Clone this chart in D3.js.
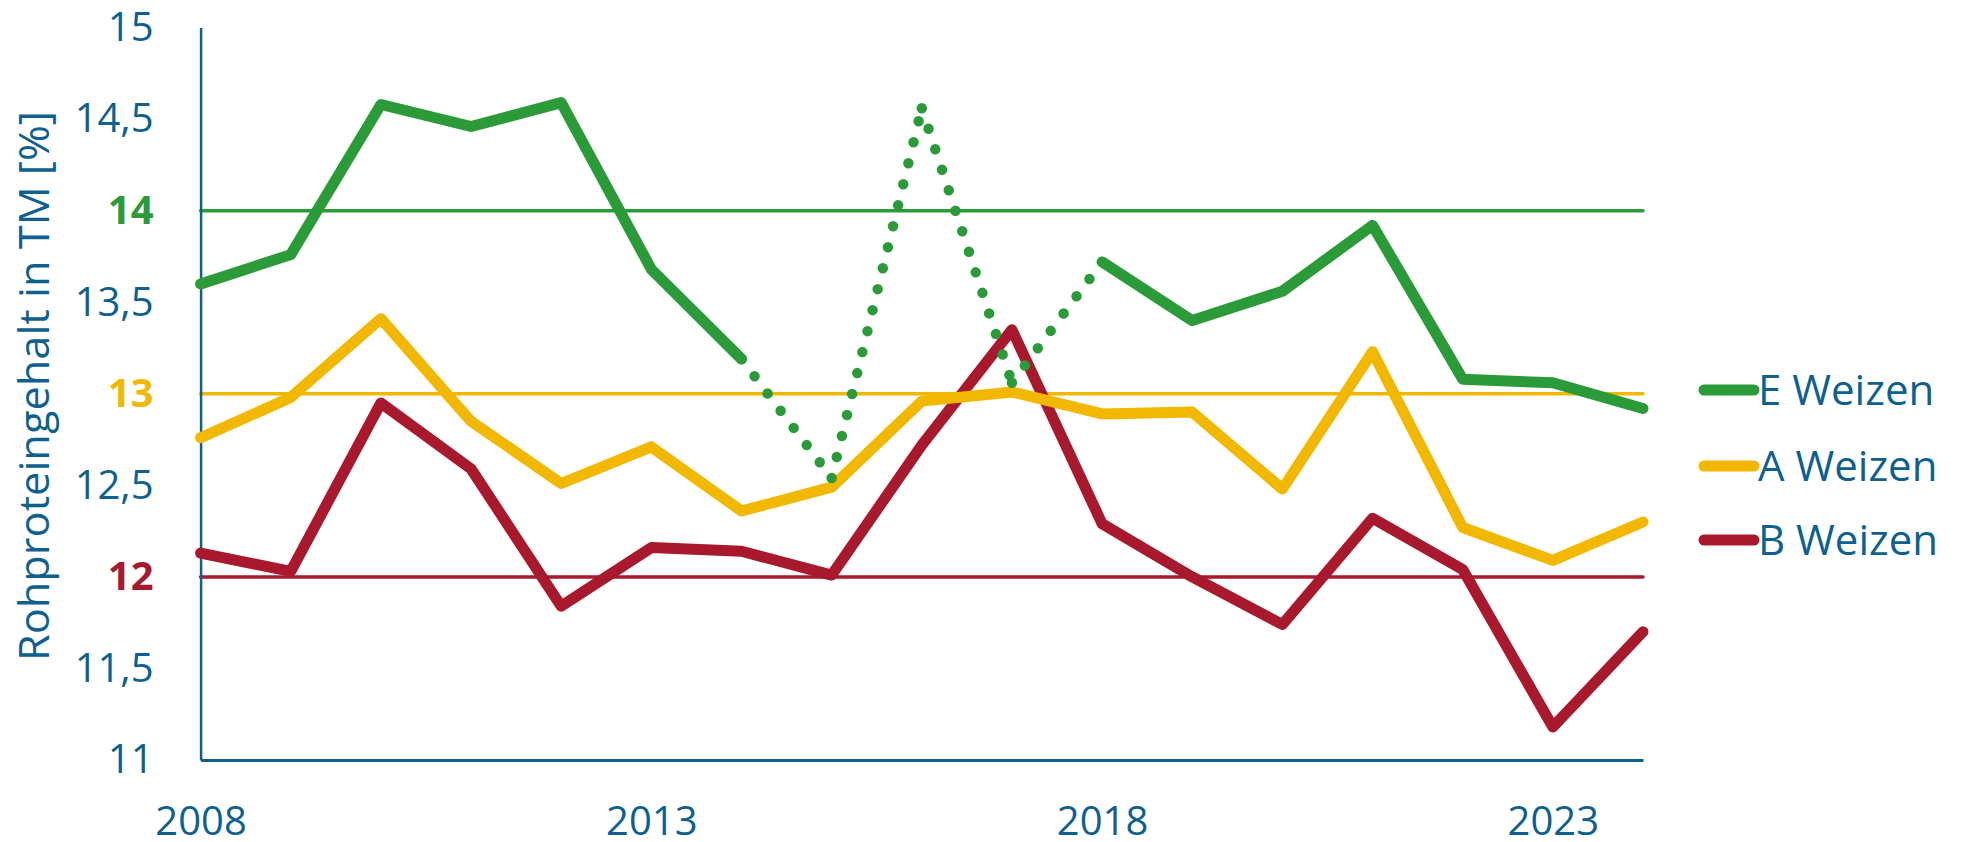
<!DOCTYPE html>
<html>
<head>
<meta charset="utf-8">
<script src="https://cdn.jsdelivr.net/npm/d3@7"></script>
<style>
  body { margin: 0; background: #fff; }
  text { font-family: "Open Sans", sans-serif; }
</style>
</head>
<body>
<div id="chart"></div>
<script>
// data
years = [2008, 2009, 2010, 2011, 2012, 2013, 2014, 2015, 2016, 2017, 2018, 2019, 2020, 2021, 2022, 2023, 2024]
eWeizen = [13.60, 13.76, 14.58, 14.46, 14.59, 13.68, 13.19, 12.54, 14.56, 13.06, 13.72, 13.40, 13.56, 13.92, 13.08, 13.06, 12.92]
aWeizen = [12.76, 12.98, 13.41, 12.85, 12.51, 12.71, 12.36, 12.49, 12.96, 13.01, 12.89, 12.90, 12.48, 13.23, 12.27, 12.09, 12.30]
bWeizen = [12.13, 12.03, 12.95, 12.59, 11.84, 12.16, 12.14, 12.01, 12.72, 13.35, 12.29, 12.00, 11.74, 12.32, 12.04, 11.18, 11.70]
eDottedYears = [2015, 2016, 2017]
seriesNames = ['E Weizen', 'A Weizen', 'B Weizen']
seriesColors = ['#2b9b3a', '#f2b800', '#a8192d']
refLevels = [14, 13, 12]
yTicks = [11, 11.5, 12, 12.5, 13, 13.5, 14, 14.5, 15]
xTicks = [2008, 2013, 2018, 2023]

svgWidth = 1966
svgHeight = 842
blue = '#0f5f8f'

margin = { top: 27.6, left: 200.6 }
width = 1442.4
height = 732.4

svg = d3.select('#chart')
        .append('svg')
        .attr('width', svgWidth)
        .attr('height', svgHeight)

chartGroup = svg.append('g')
                .attr('transform', `translate(${margin.left},${margin.top})`)

xScale = d3.scaleLinear().domain([2008, 2024]).range([0, width])
yScale = d3.scaleLinear().domain([11, 15]).range([height, 0])

// reference lines
chartGroup.selectAll('.ref')
          .data(refLevels)
          .enter()
          .append('line')
          .attr('x1', 0)
          .attr('x2', width)
          .attr('y1', d => yScale(d))
          .attr('y2', d => yScale(d))
          .attr('stroke', (d, i) => seriesColors[i])
          .attr('stroke-width', 3.5)
          .attr('stroke-linecap', 'round')

// axes
leftAxis = d3.axisLeft(yScale)
             .tickValues(yTicks)
             .tickSize(0)
             .tickPadding(47)
             .tickFormat(d => String(d).replace('.', ','))
bottomAxis = d3.axisBottom(xScale)
               .tickValues(xTicks)
               .tickSize(0)
               .tickFormat(d3.format('d'))

yAxisG = chartGroup.append('g').call(leftAxis)
yAxisG.select('.domain').attr('stroke', blue).attr('stroke-width', 2.5)
yAxisG.selectAll('text')
      .attr('font-size', 40)
      .attr('font-family', '"Open Sans", sans-serif')
      .attr('fill', d => refLevels.includes(d) ? seriesColors[refLevels.indexOf(d)] : blue)
      .attr('font-weight', d => refLevels.includes(d) ? 'bold' : 'normal')

xAxisG = chartGroup.append('g')
                   .attr('transform', `translate(0,${height})`)
                   .call(bottomAxis)
xAxisG.select('.domain').attr('stroke', blue).attr('stroke-width', 3)
xAxisG.selectAll('text')
      .attr('font-size', 40)
      .attr('font-family', '"Open Sans", sans-serif')
      .attr('fill', blue)
      .attr('dy', null)
      .attr('y', 75)

// series
seriesData = [eWeizen, aWeizen, bWeizen].map(vals => years.map((y, i) => ({ year: y, value: vals[i] })))

line = d3.line()
         .x(d => xScale(d.year))
         .y(d => yScale(d.value))

// the estimated E years are drawn dotted, one segment at a time
eData = seriesData[0]
dottedSegments = []
eData.forEach(function(d, i) {
    if (i == 0) return
    prev = eData[i - 1]
    if (eDottedYears.includes(d.year) || eDottedYears.includes(prev.year)) {
        dottedSegments.push([prev, d])
    }
})

// draw B, A, then E on top
;[2, 1, 0].forEach(function(i) {
    if (i == 0) {
        chartGroup.selectAll('.dotted')
                  .data(dottedSegments)
                  .enter()
                  .append('path')
                  .attr('d', line)
                  .attr('fill', 'none')
                  .attr('stroke', seriesColors[0])
                  .attr('stroke-width', 10.5)
                  .attr('stroke-linecap', 'round')
                  .attr('stroke-dasharray', '0 21.6')
    }
    solid = i == 0 ? line.defined(d => !eDottedYears.includes(d.year)) : line.defined(() => true)
    chartGroup.append('path')
              .datum(seriesData[i])
              .attr('d', solid)
              .attr('fill', 'none')
              .attr('stroke', seriesColors[i])
              .attr('stroke-width', 11)
              .attr('stroke-linejoin', 'round')
              .attr('stroke-linecap', 'round')
    line.defined(() => true)
})

// y label
svg.append('text')
   .attr('transform', 'translate(49,386) rotate(-90)')
   .attr('text-anchor', 'middle')
   .attr('font-size', 42)
   .attr('fill', blue)
   .attr('textLength', 550)
   .attr('lengthAdjust', 'spacingAndGlyphs')
   .text('Rohproteingehalt in TM [%]')

// legend
legendY = [390, 466, 540]
legend = svg.selectAll('.legend')
            .data(seriesNames)
            .enter()
            .append('g')
            .attr('transform', (d, i) => `translate(1704,${legendY[i]})`)

legend.append('line')
      .attr('x1', 0)
      .attr('x2', 50)
      .attr('stroke', (d, i) => seriesColors[i])
      .attr('stroke-width', 11)
      .attr('stroke-linecap', 'round')

legend.append('text')
      .attr('x', 54)
      .attr('y', 15)
      .attr('font-size', 42)
      .attr('fill', blue)
      .text(d => d)
</script>
</body>
</html>
